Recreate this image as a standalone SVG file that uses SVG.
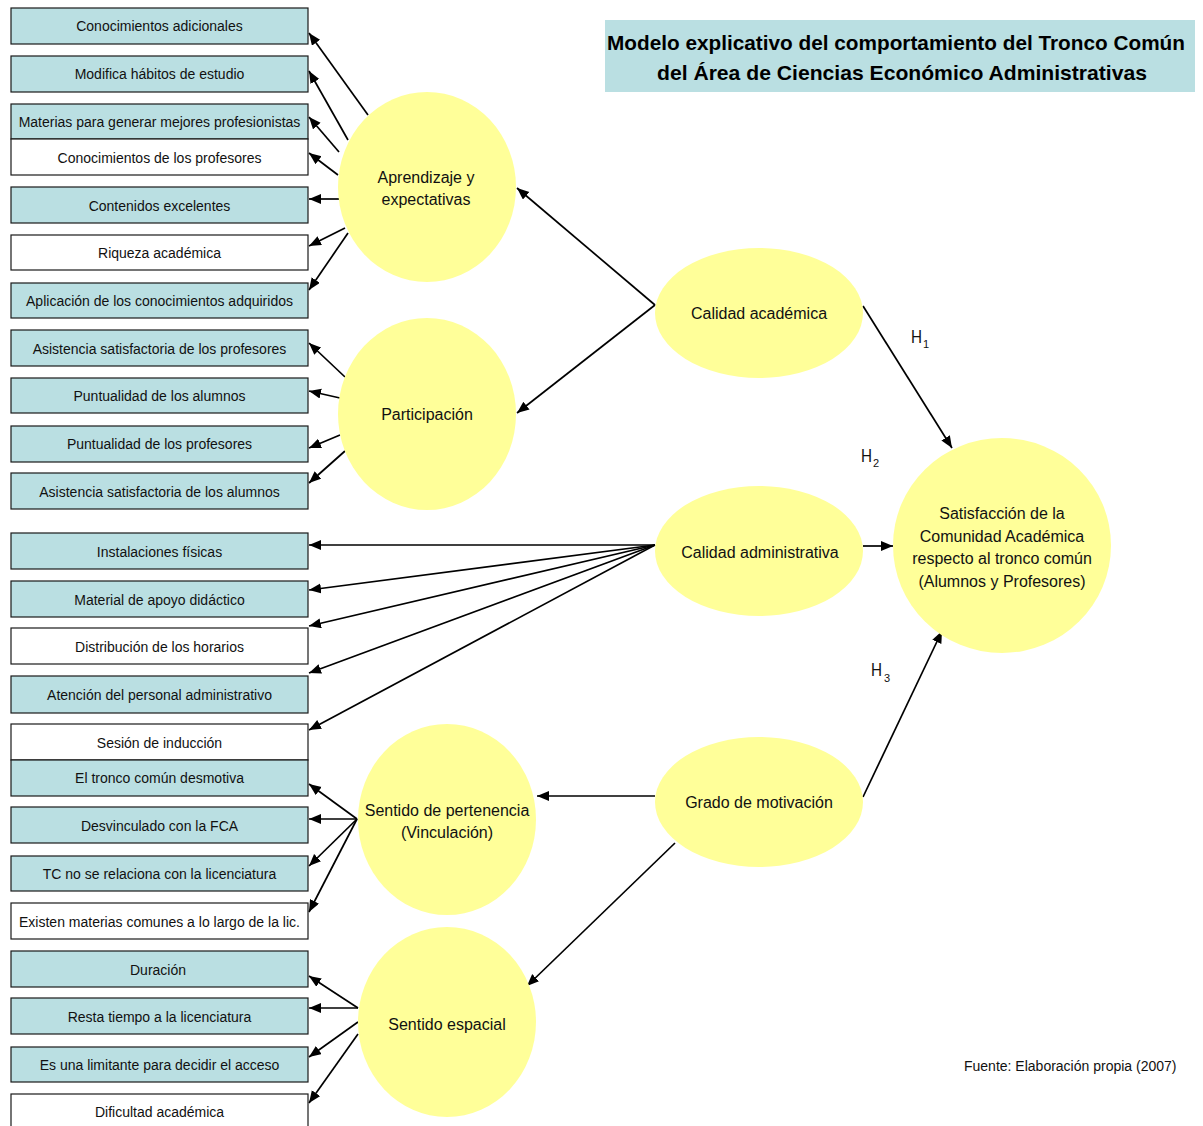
<svg xmlns="http://www.w3.org/2000/svg" width="1203" height="1126" viewBox="0 0 1203 1126">
<style>
.bx{stroke:#1a1a1a;stroke-width:1.2}
.t{fill:#BADFE2}
.w{fill:#FFFFFF}
.bt{font-family:"Liberation Sans",Arial,sans-serif;font-size:14px;fill:#111;text-anchor:middle}
.el{fill:#FFFF99}
.et{font-family:"Liberation Sans",Arial,sans-serif;font-size:16px;fill:#111;text-anchor:middle}
.ln{stroke:#000;stroke-width:1.7;fill:none;marker-end:url(#ah)}
.h{font-family:"Liberation Sans",Arial,sans-serif;font-size:19px;fill:#111}
.hs{font-family:"Liberation Sans",Arial,sans-serif;font-size:11px;fill:#111}
.ti{font-family:"Liberation Sans",Arial,sans-serif;font-size:21px;font-weight:bold;fill:#000}
</style>
<defs>
<marker id="ah" markerUnits="userSpaceOnUse" markerWidth="13" markerHeight="11" refX="12" refY="5" orient="auto"><path d="M0,0 L12,5 L0,10 z" fill="#000"/></marker>
</defs>
<rect width="1203" height="1126" fill="#FFFFFF"/>
<g id="title">
<rect x="605" y="20" width="590" height="72" fill="#BADFE2"/>
<text class="ti" x="607" y="50" textLength="578" lengthAdjust="spacingAndGlyphs">Modelo explicativo del comportamiento del Tronco Común</text>
<text class="ti" x="657" y="80" textLength="490" lengthAdjust="spacingAndGlyphs">del Área de Ciencias Económico Administrativas</text>
</g>
<g id="connectors">
<line class="ln" x1="368" y1="115" x2="309" y2="33"/>
<line class="ln" x1="348" y1="140" x2="309" y2="71"/>
<line class="ln" x1="339" y1="152" x2="309" y2="117"/>
<line class="ln" x1="338" y1="175" x2="309" y2="153"/>
<line class="ln" x1="339" y1="199" x2="309" y2="199"/>
<line class="ln" x1="345" y1="228" x2="309" y2="246"/>
<line class="ln" x1="348" y1="233" x2="309" y2="290"/>
<line class="ln" x1="345" y1="377" x2="309" y2="343"/>
<line class="ln" x1="340" y1="398" x2="309" y2="391"/>
<line class="ln" x1="340" y1="435" x2="309" y2="448"/>
<line class="ln" x1="345" y1="451" x2="309" y2="483"/>
<line class="ln" x1="655" y1="305" x2="517" y2="188"/>
<line class="ln" x1="655" y1="305" x2="517" y2="413"/>
<line class="ln" x1="863" y1="306" x2="952" y2="448"/>
<line class="ln" x1="863" y1="546" x2="893" y2="546"/>
<line class="ln" x1="863" y1="797" x2="942" y2="631"/>
<line class="ln" x1="655" y1="545" x2="309" y2="545"/>
<line class="ln" x1="655" y1="545" x2="309" y2="590"/>
<line class="ln" x1="655" y1="545" x2="309" y2="626"/>
<line class="ln" x1="655" y1="545" x2="309" y2="673"/>
<line class="ln" x1="655" y1="545" x2="309" y2="730"/>
<line class="ln" x1="655" y1="796" x2="537" y2="796"/>
<line class="ln" x1="675" y1="843" x2="527" y2="986"/>
<line class="ln" x1="357" y1="819" x2="309" y2="784"/>
<line class="ln" x1="357" y1="819" x2="309" y2="819"/>
<line class="ln" x1="357" y1="819" x2="309" y2="866"/>
<line class="ln" x1="357" y1="819" x2="309" y2="912"/>
<line class="ln" x1="358" y1="1008" x2="309" y2="976"/>
<line class="ln" x1="358" y1="1008" x2="309" y2="1008"/>
<line class="ln" x1="358" y1="1022" x2="309" y2="1057"/>
<line class="ln" x1="358" y1="1034" x2="309" y2="1103"/>
</g>
<g id="b1"><rect class="bx t" x="11" y="8" width="297" height="36"/><text class="bt" x="159.5" y="31">Conocimientos adicionales</text></g>
<g id="b2"><rect class="bx t" x="11" y="56" width="297" height="36"/><text class="bt" x="159.5" y="79">Modifica hábitos de estudio</text></g>
<g id="b3"><rect class="bx t" x="11" y="104" width="297" height="35"/><text class="bt" x="159.5" y="127">Materias para generar mejores profesionistas</text></g>
<g id="b4"><rect class="bx w" x="11" y="139" width="297" height="36"/><text class="bt" x="159.5" y="163">Conocimientos de los profesores</text></g>
<g id="b5"><rect class="bx t" x="11" y="187" width="297" height="36"/><text class="bt" x="159.5" y="211">Contenidos excelentes</text></g>
<g id="b6"><rect class="bx w" x="11" y="235" width="297" height="35"/><text class="bt" x="159.5" y="258">Riqueza académica</text></g>
<g id="b7"><rect class="bx t" x="11" y="283" width="297" height="35"/><text class="bt" x="159.5" y="306">Aplicación de los conocimientos adquiridos</text></g>
<g id="b8"><rect class="bx t" x="11" y="330" width="297" height="36"/><text class="bt" x="159.5" y="354">Asistencia satisfactoria de los profesores</text></g>
<g id="b9"><rect class="bx t" x="11" y="378" width="297" height="35"/><text class="bt" x="159.5" y="401">Puntualidad de los alumnos</text></g>
<g id="b10"><rect class="bx t" x="11" y="426" width="297" height="36"/><text class="bt" x="159.5" y="449">Puntualidad de los profesores</text></g>
<g id="b11"><rect class="bx t" x="11" y="473" width="297" height="36"/><text class="bt" x="159.5" y="497">Asistencia satisfactoria de los alumnos</text></g>
<g id="b12"><rect class="bx t" x="11" y="533" width="297" height="36"/><text class="bt" x="159.5" y="557">Instalaciones físicas</text></g>
<g id="b13"><rect class="bx t" x="11" y="581" width="297" height="36"/><text class="bt" x="159.5" y="605">Material de apoyo didáctico</text></g>
<g id="b14"><rect class="bx w" x="11" y="628" width="297" height="36"/><text class="bt" x="159.5" y="652">Distribución de los horarios</text></g>
<g id="b15"><rect class="bx t" x="11" y="676" width="297" height="37"/><text class="bt" x="159.5" y="700">Atención del personal administrativo</text></g>
<g id="b16"><rect class="bx w" x="11" y="724" width="297" height="36"/><text class="bt" x="159.5" y="748">Sesión de inducción</text></g>
<g id="b17"><rect class="bx t" x="11" y="760" width="297" height="36"/><text class="bt" x="159.5" y="783">El tronco común desmotiva</text></g>
<g id="b18"><rect class="bx t" x="11" y="807" width="297" height="36"/><text class="bt" x="159.5" y="831">Desvinculado con la FCA</text></g>
<g id="b19"><rect class="bx t" x="11" y="856" width="297" height="35"/><text class="bt" x="159.5" y="879">TC no se relaciona con la licenciatura</text></g>
<g id="b20"><rect class="bx w" x="11" y="903" width="297" height="36"/><text class="bt" x="159.5" y="927">Existen materias comunes a lo largo de la lic.</text></g>
<g id="b21"><rect class="bx t" x="11" y="951" width="297" height="36"/><text class="bt" x="158" y="975">Duración</text></g>
<g id="b22"><rect class="bx t" x="11" y="998" width="297" height="36"/><text class="bt" x="159.5" y="1022">Resta tiempo a la licenciatura</text></g>
<g id="b23"><rect class="bx t" x="11" y="1047" width="297" height="35"/><text class="bt" x="159.5" y="1070">Es una limitante para decidir el acceso</text></g>
<g id="b24"><rect class="bx w" x="11" y="1094" width="297" height="36"/><text class="bt" x="159.5" y="1117">Dificultad académica</text></g>
<g id="n-aprendizaje"><ellipse class="el" cx="427" cy="187" rx="89" ry="95"/><text class="et" x="426" y="183">Aprendizaje y</text><text class="et" x="426" y="205">expectativas</text></g>
<g id="n-participacion"><ellipse class="el" cx="427" cy="414" rx="89" ry="96"/><text class="et" x="427" y="420">Participación</text></g>
<g id="n-cal-academica"><ellipse class="el" cx="759" cy="313" rx="104" ry="65"/><text class="et" x="759" y="319">Calidad académica</text></g>
<g id="n-cal-admin"><ellipse class="el" cx="759" cy="551" rx="104" ry="65"/><text class="et" x="760" y="558">Calidad administrativa</text></g>
<g id="n-motivacion"><ellipse class="el" cx="759" cy="802" rx="104" ry="65"/><text class="et" x="759" y="808">Grado de motivación</text></g>
<g id="n-satisfaccion"><ellipse class="el" cx="1002" cy="545.5" rx="109" ry="107.5"/><text class="et" x="1002" y="519">Satisfacción de la</text><text class="et" x="1002" y="541.5">Comunidad Académica</text><text class="et" x="1002" y="564">respecto al tronco común</text><text class="et" x="1002" y="586.5">(Alumnos y Profesores)</text></g>
<g id="n-pertenencia"><ellipse class="el" cx="447" cy="819.5" rx="89" ry="95.5"/><text class="et" x="447" y="816">Sentido de pertenencia</text><text class="et" x="447" y="838">(Vinculación)</text></g>
<g id="n-espacial"><ellipse class="el" cx="447" cy="1022" rx="89" ry="95"/><text class="et" x="447" y="1030">Sentido espacial</text></g>
<g id="labels">
<text class="h" x="911" y="343" textLength="11" lengthAdjust="spacingAndGlyphs">H</text><text class="hs" x="923" y="348">1</text>
<text class="h" x="861" y="462" textLength="11" lengthAdjust="spacingAndGlyphs">H</text><text class="hs" x="873" y="467">2</text>
<text class="h" x="871" y="676" textLength="11" lengthAdjust="spacingAndGlyphs">H</text><text class="hs" x="884" y="682">3</text>
<text class="bt" x="964" y="1071" style="text-anchor:start">Fuente: Elaboración propia (2007)</text>
</g>
</svg>
